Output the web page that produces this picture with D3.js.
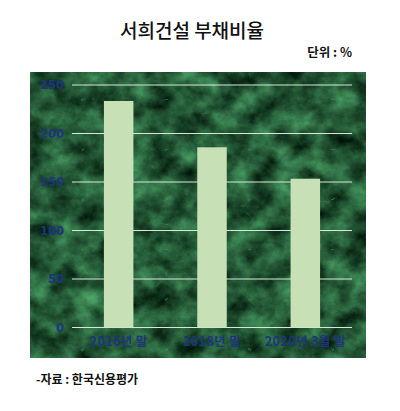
<!DOCTYPE html>
<html><head><meta charset="utf-8">
<script src="https://cdn.jsdelivr.net/npm/d3@7"></script>
<style>body{margin:0;background:#fff}svg{display:block}</style>
</head><body>
<script>
const categories = ["2016년 말", "2018년 말", "2020년 3월 말"];
const values = [233.5, 185.8, 153.4];
const yTicks = [0, 50, 100, 150, 200, 250];
const title = "서희건설 부채비율";
const unitLabel = "단위 : %";
const sourceLabel = "-자료 : 한국신용평가";

const W = 400, H = 411;
const svg = d3.select("body").append("svg").attr("width", W).attr("height", H);
const defs = svg.append("defs");
const f = defs.append("filter").attr("id","marble").attr("x",0).attr("y",0).attr("width","100%").attr("height","100%")
  .attr("color-interpolation-filters","sRGB");
f.append("feTurbulence").attr("type","fractalNoise").attr("baseFrequency","0.04 0.045").attr("numOctaves",6).attr("seed",7).attr("result","n");
f.append("feColorMatrix").attr("in","n").attr("type","matrix")
 .attr("values","0.4 0 0 0 -0.06  0.75 0 0 0 -0.03  0.5 0 0 0 -0.04  0 0 0 0 1").attr("result","c");
f.append("feTurbulence").attr("type","turbulence").attr("baseFrequency","0.012 0.02").attr("numOctaves",4).attr("seed",3).attr("result","t");
f.append("feColorMatrix").attr("in","t").attr("type","matrix")
 .attr("values","0 0 0 0 0.33  0 0 0 0 0.6  0 0 0 0 0.4  -6 0 0 0 0.4").attr("result","v");
f.append("feMerge").call(m=>{m.append("feMergeNode").attr("in","c");m.append("feMergeNode").attr("in","v");});

const plot = {x0: 30, x1: 366, y0: 72, y1: 358};
svg.append("rect").attr("x",plot.x0).attr("y",plot.y0).attr("width",plot.x1-plot.x0).attr("height",plot.y1-plot.y0)
  .attr("fill","#1f5a31");
svg.append("rect").attr("x",plot.x0).attr("y",plot.y0).attr("width",plot.x1-plot.x0).attr("height",plot.y1-plot.y0)
  .attr("filter","url(#marble)");

const x = d3.scaleBand().domain(categories).range([72, 352]).paddingInner(0.684).paddingOuter(0.342);
const y = d3.scaleLinear().domain([0, 250]).range([327.5, 85]);

const grid = svg.append("g");
grid.selectAll("line").data(yTicks).join("line")
  .attr("x1",72).attr("x2",352).attr("y1",d=>y(d)).attr("y2",d=>y(d))
  .attr("stroke","#d8e8d8").attr("stroke-width",1);

svg.append("g").selectAll("rect").data(values).join("rect")
  .attr("x",(d,i)=>x(categories[i])).attr("width",x.bandwidth())
  .attr("y",d=>y(d)).attr("height",d=>y(0)-y(d)).attr("fill","#c7e0b6");

const yAxis = svg.append("g").attr("transform","translate(64,0)")
  .call(d3.axisLeft(y).tickValues(yTicks).tickSize(0).tickPadding(0));
yAxis.select(".domain").remove();
yAxis.selectAll("text").attr("fill","#1d3580").attr("font-family","DejaVu Sans, sans-serif")
  .attr("font-size",11.5).attr("font-weight","bold");

const xAxis = svg.append("g").attr("transform","translate(0,337)")
  .call(d3.axisBottom(x).tickSize(0).tickPadding(0));
xAxis.select(".domain").remove();
xAxis.selectAll("text").attr("fill","#1d3580").attr("font-family","Noto Sans CJK KR, sans-serif")
  .attr("font-size",12.5).attr("font-weight","bold").attr("letter-spacing",0.4);

svg.append("text").attr("x",192).attr("y",38).attr("text-anchor","middle")
  .attr("font-family","Noto Sans CJK KR, sans-serif").attr("font-size",19).attr("font-weight",500)
  .attr("fill","#111").text(title);
svg.append("text").attr("x",352).attr("y",57).attr("text-anchor","end")
  .attr("font-family","Noto Sans CJK KR, sans-serif").attr("font-size",12.5).attr("font-weight","bold")
  .attr("fill","#111").text(unitLabel);
svg.append("text").attr("x",36).attr("y",384)
  .attr("font-family","Noto Sans CJK KR, sans-serif").attr("font-size",12).attr("font-weight","bold")
  .attr("fill","#111").text(sourceLabel);
</script>
</body></html>
